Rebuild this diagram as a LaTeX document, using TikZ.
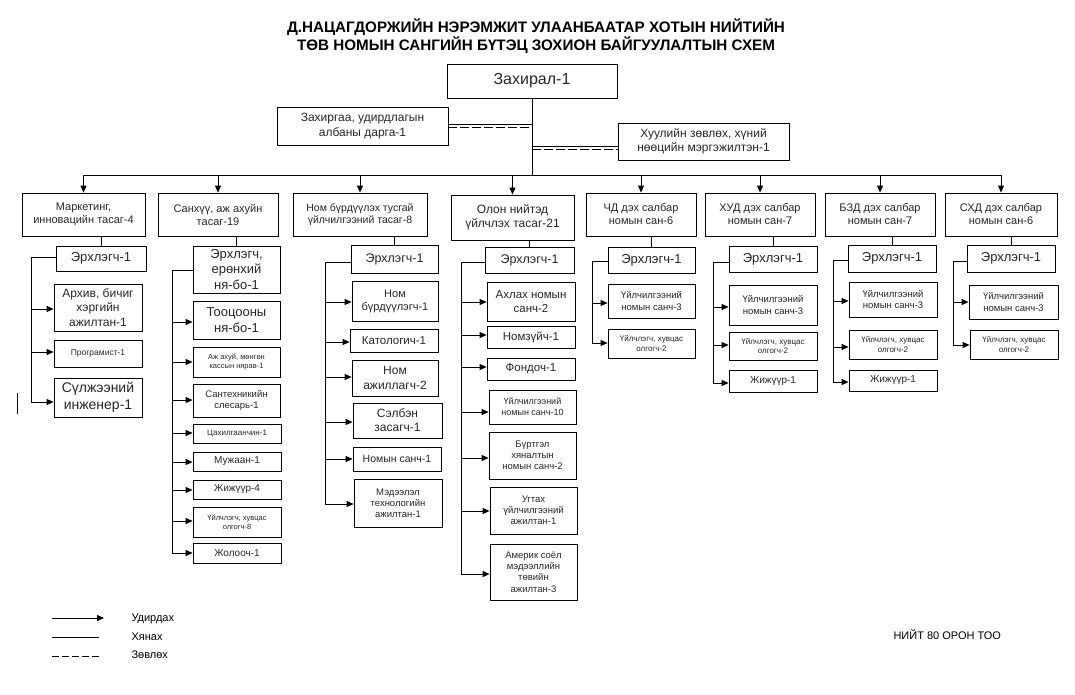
\documentclass[tikz,border=0pt]{standalone}
\usepackage{fontspec}
\setmainfont{Liberation Sans}
\usetikzlibrary{arrows.meta}
\tikzset{
  box/.style={draw,line width=0.8pt,inner sep=1pt,align=center,text=black!85},
  arr/.style={line width=0.8pt,-{Triangle[length=7pt,width=6pt]}},
  ln/.style={line width=0.8pt},
  dsh/.style={line width=0.8pt,dash pattern=on 9pt off 3pt},
  ldsh/.style={line width=0.8pt,dash pattern=on 7pt off 3pt},
}
\newcommand\mybox[7]{%
  \pgfmathsetlengthmacro\bsk{1.18*#6}%
  \node[box,minimum width={(#4)-(#2)},minimum height={(#5)-(#3)},font=\fontsize{#6}{\bsk}\selectfont] (#1) at ({((#2)+(#4))/2},{((#3)+(#5))/2}) {#7};}
% name x1 y1 x2 y2 fs text arrowy Lx
\newcommand\myitem[9]{%
  \mybox{#1}{#2}{#3}{#4}{#5}{#6}{#7}%
  \draw[arr] (#9,#8) -- (#1.west |- 0,#8);}
\begin{document}
\begin{tikzpicture}[x=1pt,y=-1pt]
\useasboundingbox (0,0) rectangle (1075,694);
% title
\node[font=\bfseries\fontsize{15.2}{18}\selectfont,align=center] (title) at (536,36) {Д.НАЦАГДОРЖИЙН НЭРЭМЖИТ УЛААНБААТАР ХОТЫН НИЙТИЙН\\ТӨВ НОМЫН САНГИЙН БҮТЭЦ ЗОХИОН БАЙГУУЛАЛТЫН СХЕМ};
% top
\mybox{zah}{447}{64}{617}{98}{16}{Захирал-1}
\mybox{zg}{277}{107}{448}{145}{12}{Захиргаа, удирдлагын\\албаны дарга-1}
\mybox{hu}{618}{123}{789}{160}{12}{Хуулийн зөвлөх, хүний\\нөөцийн мэргэжилтэн-1}
\draw[ln] (zah.south) -- (zah.south |- 0,175);
\draw[ln] (zg.east |- 0,124.3) -- (zah.south |- 0,124.3);
\draw[dsh] (zg.east |- 0,127.3) -- (zah.south |- 0,127.3);
\draw[ln] (zah.south |- 0,146.3) -- (hu.west |- 0,146.3);
\draw[dsh] (zah.south |- 0,149.3) -- (hu.west |- 0,149.3);
% departments
\mybox{d1}{22}{193}{145}{236}{11}{Маркетинг,\\инновацийн тасаг-4}
\mybox{d2}{158}{193}{278}{236}{11}{Санхүү, аж ахуйн\\тасаг-19}
\mybox{d3}{293}{193}{427}{236}{10.5}{Ном бүрдүүлэх тусгай\\үйлчилгээний тасаг-8}
\mybox{d4}{451}{195}{574}{240}{12}{Олон нийтэд\\үйлчлэх тасаг-21}
\mybox{d5}{586}{193}{696}{236}{11}{ЧД дэх салбар\\номын сан-6}
\mybox{d6}{705}{193}{815}{236}{11}{ХУД дэх салбар\\номын сан-7}
\mybox{d7}{825}{193}{935}{236}{11}{БЗД дэх салбар\\номын сан-7}
\mybox{d8}{945}{193}{1057}{236}{11}{СХД дэх салбар\\номын сан-6}
\draw[ln] (d1.north |- 0,175) -- (d8.north |- 0,175);
\foreach \d in {d1,d2,d3,d4,d5,d6,d7,d8}{\draw[arr] (\d.north |- 0,175) -- (\d.north);}
% column 1
\mybox{h1}{56}{246}{146}{271}{13}{Эрхлэгч-1}
\draw[ln] (h1.north) -- (h1.north |- d1.south);
\draw[ln] (h1.west |- 0,257) -- (31,257) -- (31,402);
\myitem{c1a}{54}{284}{142}{331}{12}{Архив, бичиг\\хэргийн\\ажилтан-1}{309}{31}
\myitem{c1b}{54}{340}{142}{367}{8.5}{Програмист-1}{352}{31}
\myitem{c1c}{54}{378}{142}{417}{14}{Сүлжээний\\инженер-1}{402}{31}
\draw[ln] (17,393) -- (17,414);
% column 2
\mybox{h2}{193}{246}{280}{293}{13}{Эрхлэгч,\\ерөнхий\\ня-бо-1}
\draw[ln] (h2.north) -- (h2.north |- d2.south);
\draw[ln] (h2.west |- 0,270) -- (172,270) -- (172,553);
\myitem{c2a}{193}{301}{280}{339}{13}{Тооцооны\\ня-бо-1}{322}{172}
\myitem{c2b}{193}{347}{280}{377}{7.5}{Аж ахуй, мөнгөн\\кассын нярав-1}{362}{172}
\myitem{c2c}{193}{384}{280}{417}{9.5}{Сантехникийн\\слесарь-1}{400}{172}
\myitem{c2d}{193}{424}{281}{443}{8}{Цахилгаанчин-1}{433}{172}
\myitem{c2e}{193}{452}{281}{471}{10}{Мужаан-1}{462}{172}
\myitem{c2f}{193}{480}{281}{499}{10}{Жижүүр-4}{490}{172}
\myitem{c2g}{193}{507}{281}{537}{7.5}{Үйлчлэгч, хувцас\\олгогч-8}{521}{172}
\myitem{c2h}{193}{543}{281}{563}{10}{Жолооч-1}{553}{172}
% column 3
\mybox{h3}{351}{245}{438}{273}{12.5}{Эрхлэгч-1}
\draw[ln] (h3.north) -- (h3.north |- d3.south);
\draw[ln] (h3.west |- 0,262) -- (325,262) -- (325,504);
\myitem{c3a}{352}{281}{438}{321}{11}{Ном\\бүрдүүлэгч-1}{302}{325}
\myitem{c3b}{350}{329}{438}{352}{11.5}{Катологич-1}{342}{325}
\myitem{c3c}{352}{360}{438}{396}{12}{Ном\\ажиллагч-2}{377}{325}
\myitem{c3d}{353}{403}{442}{438}{12}{Сэлбэн\\засагч-1}{422}{325}
\myitem{c3e}{353}{447}{441}{471}{10.5}{Номын санч-1}{459}{325}
\myitem{c3f}{354}{479}{442}{527}{9.5}{Мэдээлэл\\технологийн\\ажилтан-1}{504}{325}
% column 4
\mybox{h4}{485}{247}{574}{273}{12.5}{Эрхлэгч-1}
\draw[ln] (h4.north) -- (h4.north |- d4.south);
\draw[ln] (h4.west |- 0,262) -- (461,262) -- (461,574);
\myitem{c4a}{487}{282}{575}{321}{11.5}{Ахлах номын\\санч-2}{302}{461}
\myitem{c4b}{487}{326}{575}{348}{11.5}{Номзүйч-1}{335}{461}
\myitem{c4c}{487}{358}{575}{380}{11.5}{Фондоч-1}{367}{461}
\myitem{c4d}{489}{390}{576}{424}{9}{Үйлчилгээний\\номын санч-10}{412}{461}
\myitem{c4e}{489}{432}{576}{479}{9.5}{Бүртгэл\\хяналтын\\номын санч-2}{458}{461}
\myitem{c4f}{490}{487}{577}{534}{9.5}{Угтах\\үйлчилгээний\\ажилтан-1}{511}{461}
\myitem{c4g}{490}{544}{577}{600}{9.5}{Америк соёл\\мэдээллийн\\төвийн\\ажилтан-3}{574}{461}
% column 5
\mybox{h5}{608}{247}{695}{273}{13}{Эрхлэгч-1}
\draw[ln] (h5.north) -- (h5.north |- d5.south);
\draw[ln] (h5.west |- 0,261) -- (592,261) -- (592,343);
\myitem{c5a}{608}{284}{695}{318}{9.5}{Үйлчилгээний\\номын санч-3}{303}{592}
\myitem{c5b}{608}{329}{695}{358}{8}{Үйлчлэгч, хувцас\\олгогч-2}{343}{592}
% column 6
\mybox{h6}{729}{246}{817}{272}{13}{Эрхлэгч-1}
\draw[ln] (h6.north) -- (h6.north |- d6.south);
\draw[ln] (h6.west |- 0,262) -- (713,262) -- (713,383);
\myitem{c6a}{729}{285}{817}{325}{9.5}{Үйлчилгээний\\номын санч-3}{307}{713}
\myitem{c6b}{729}{332}{817}{360}{8}{Үйлчлэгч, хувцас\\олгогч-2}{345}{713}
\myitem{c6c}{729}{370}{817}{392}{10}{Жижүүр-1}{383}{713}
% column 7
\mybox{h7}{848}{245}{936}{272}{13}{Эрхлэгч-1}
\draw[ln] (h7.north) -- (h7.north |- d7.south);
\draw[ln] (h7.west |- 0,260) -- (833,260) -- (833,382);
\myitem{c7a}{849}{282}{937}{317}{9.5}{Үйлчилгээний\\номын санч-3}{301}{833}
\myitem{c7b}{849}{330}{937}{359}{8}{Үйлчлэгч, хувцас\\олгогч-2}{347}{833}
\myitem{c7c}{849}{370}{937}{391}{10}{Жижүүр-1}{382}{833}
% column 8
\mybox{h8}{967}{245}{1055}{272}{13}{Эрхлэгч-1}
\draw[ln] (h8.north) -- (h8.north |- d8.south);
\draw[ln] (h8.west |- 0,261) -- (953,261) -- (953,345);
\myitem{c8a}{969}{285}{1058}{319}{9.5}{Үйлчилгээний\\номын санч-3}{302}{953}
\myitem{c8b}{970}{330}{1058}{359}{8}{Үйлчлэгч, хувцас\\олгогч-2}{345}{953}
% legend
\coordinate (la1) at (52,618); \coordinate (la2) at (104,618);
\coordinate (lb1) at (52,637); \coordinate (lb2) at (99,637);
\coordinate (lc1) at (52,656); \coordinate (lc2) at (99,656);
\draw[arr] (la1) -- (la2);
\draw[ln] (lb1) -- (lb2);
\draw[ldsh] (lc1) -- (lc2);
\node[anchor=west,font=\fontsize{11}{13}\selectfont] (lt1) at (128,619) {Удирдах};
\node[anchor=west,font=\fontsize{11}{13}\selectfont] (lt2) at (128,637) {Хянах};
\node[anchor=west,font=\fontsize{11}{13}\selectfont] (lt3) at (128,655) {Зөвлөх};
\node[anchor=west,font=\fontsize{11}{13}\selectfont] (total) at (890,635) {НИЙТ 80 ОРОН ТОО};
\end{tikzpicture}
\end{document}
